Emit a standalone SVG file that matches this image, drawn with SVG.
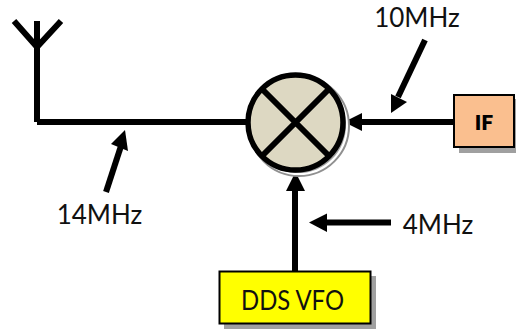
<svg xmlns="http://www.w3.org/2000/svg" width="516" height="329" viewBox="0 0 516 329">
<style>
.w{fill:none;stroke:#000;stroke-width:6}
.h{fill:#000;stroke:none}
.t{font-family:Lato,"Liberation Sans",sans-serif;font-size:26px;fill:#111}
.box{stroke:#000;stroke-width:2}
.sh{fill:#a0a0a0}
</style>
<rect width="516" height="329" fill="#fff"/>
<g id="connectors">
<path class="w" d="M37 21V122"/>
<path class="w" d="M14 21L37 47L61 21"/>
<path class="w" d="M37 122H246"/>
<path class="w" d="M347 122H454"/>
<path class="h" d="M344 122L362 113V131Z"/>
<path class="w" d="M295 271V185"/>
<path class="h" d="M295.500 172L305 191H286Z"/>
<path class="w" d="M106 192L121 146"/>
<path class="h" d="M125 130L128 151L111 144Z"/>
<path class="w" d="M425 40L398 97"/>
<path class="h" d="M391 113L391 94L407 102Z"/>
<path class="w" d="M391 222.500H325"/>
<path class="h" d="M309 222.500L327 213.500V232Z"/>
</g>
<g id="mixer">
<circle cx="299" cy="126" r="50" fill="#fff" stroke="#909090" stroke-width="2"/>
<circle cx="298.500" cy="125.500" r="47.500" fill="#a0a0a0"/>
<circle cx="295.500" cy="122.500" r="47.500" fill="#ddd8c2" stroke="#000" stroke-width="5.500"/>
<path class="w" d="M262 89L329 156M329 89L262 156"/>
</g>
<g id="if">
<rect class="sh" x="459" y="99" width="57" height="54"/>
<rect class="box" x="454" y="95" width="60" height="52" fill="#fabf8f"/>
<text x="484" y="130" text-anchor="middle" font-family="Lato,'Liberation Sans',sans-serif" font-size="21" font-weight="800" fill="#000">IF</text>
</g>
<g id="vfo">
<rect class="sh" x="224" y="276" width="152" height="53"/>
<rect class="box" x="219.500" y="271.500" width="151" height="52" fill="#ff0"/>
<text x="241" y="310" class="t" textLength="103" lengthAdjust="spacingAndGlyphs">DDS VFO</text>
</g>
<g id="labels">
<text x="99.500" y="224" text-anchor="middle" class="t">14MHz</text>
<text x="417" y="27" text-anchor="middle" class="t">10MHz</text>
<text x="438" y="234" text-anchor="middle" class="t">4MHz</text>
</g>
</svg>
